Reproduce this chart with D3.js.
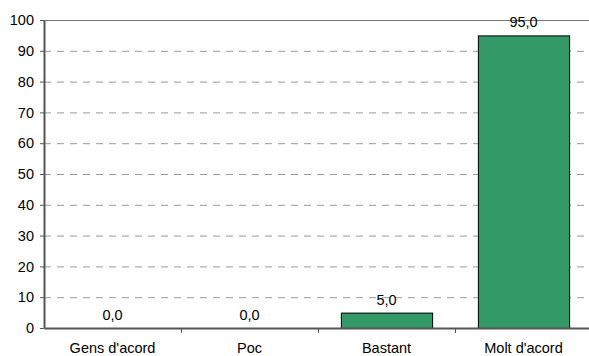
<!DOCTYPE html>
<html><head><meta charset="utf-8">
<script src="https://cdn.jsdelivr.net/npm/d3@7"></script>
<style>body{margin:0;background:#fff}svg{display:block;font-family:"Liberation Sans",Arial,Helvetica,sans-serif}</style>
</head><body>
<svg id="c" width="589" height="356"></svg>
<script>
const categories = ["Gens d'acord", "Poc", "Bastant", "Molt d'acord"];
const values = [0.0, 0.0, 5.0, 95.0];
const yTicks = [0,10,20,30,40,50,60,70,80,90,100];

const svg = d3.select("#c");
const m = {left:44, top:20, right:-3, bottom:28};
const W = 589, H = 356;
const FS = 14.5;
const x = d3.scaleBand().domain(categories).range([m.left, W - m.right]).paddingInner(0.334).paddingOuter(0.167);
const xb = d3.scaleBand().domain(categories).range([m.left, W - m.right]);
const y = d3.scaleLinear().domain([0,100]).range([H - m.bottom, m.top]);

// grid
svg.append("g").selectAll("line").data(yTicks.filter(d=>d>0 && d<100)).join("line")
  .attr("x1", m.left).attr("x2", W).attr("y1", d=>y(d)+0.5).attr("y2", d=>y(d)+0.5)
  .attr("stroke", "#999").attr("stroke-dasharray", "7,6");
svg.append("line").attr("x1", m.left).attr("x2", W).attr("y1", y(100)+0.5).attr("y2", y(100)+0.5)
  .attr("stroke", "#777");

// bars
svg.append("g").selectAll("rect").data(values).join("rect")
  .attr("x", (d,i)=>x(categories[i])+0.5)
  .attr("y", d=>y(d)+0.5)
  .attr("width", x.bandwidth())
  .attr("height", d=>y(0)-y(d))
  .attr("fill", "#339966").attr("stroke", "#000").attr("stroke-width", 1)
  .style("display", d=> d>0 ? null : "none");

// value labels
svg.append("g").selectAll("text").data(values).join("text")
  .attr("x", (d,i)=>xb(categories[i]) + xb.bandwidth()/2)
  .attr("y", d=>y(d) - 8)
  .attr("text-anchor","middle").attr("font-size", FS).attr("fill","#000")
  .text(d=>d.toFixed(1).replace(".", ","));

// y axis
const ya = d3.axisLeft(y).tickValues(yTicks).tickSize(4).tickSizeOuter(0).tickPadding(6);
const gy = svg.append("g").attr("transform", `translate(${m.left},0)`).call(ya);
gy.select(".domain").attr("stroke","#555").attr("stroke-width",2);
gy.selectAll(".tick line").attr("stroke","#555");
gy.selectAll("text").attr("font-size",FS).attr("fill","#000").attr("font-family","inherit");

// x axis
const xa = d3.axisBottom(xb).tickSize(0).tickPadding(15);
const gx = svg.append("g").attr("transform", `translate(0,${y(0)})`).call(xa);
gx.select(".domain").attr("stroke","#555").attr("stroke-width",2);
gx.selectAll("text").attr("font-size",FS).attr("fill","#000").attr("font-family","inherit");
// category separator ticks
svg.append("g").selectAll("line").data(categories.slice(1)).join("line")
  .attr("x1", d=>Math.round(xb(d))+0.5).attr("x2", d=>Math.round(xb(d))+0.5)
  .attr("y1", y(0)).attr("y2", y(0)+5).attr("stroke","#555");
</script>
</body></html>
